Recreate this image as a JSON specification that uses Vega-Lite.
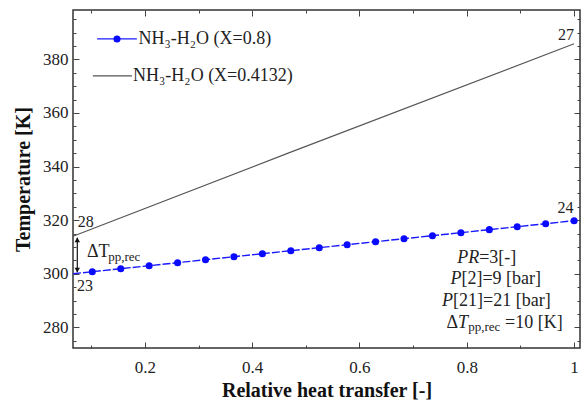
{
  "$schema": "https://vega.github.io/schema/vega-lite/v6.json",
  "width": 507,
  "height": 338,
  "autosize": {"type": "none"},
  "padding": {"left": 73, "top": 10, "right": 8, "bottom": 52},
  "background": "white",
  "config": {
    "view": {"stroke": "#333333", "strokeWidth": 1.5},
    "font": "Liberation Serif",
    "style": {"guide-label": {"font": "Liberation Serif"}, "guide-title": {"font": "Liberation Serif"}},
    "axis": {"domain": false, "grid": false, "labelFont": "Liberation Serif", "titleFont": "Liberation Serif", "labelFontSize": 17, "labelColor": "#222222", "tickColor": "#444444", "titleFontSize": 20, "titleFontWeight": "bold", "titleColor": "#111111"},
    "text": {"font": "Liberation Serif", "color": "#222222"}
  },
  "datasets": {
    "gray": [
      {"x": 0.066, "T": 314.0},
      {"x": 0.467, "T": 345.0},
      {"x": 1.0, "T": 385.8}
    ],
    "blue": [
      {"x": 0.066, "T": 300.0, "pt": false},
      {"x": 0.102, "T": 300.76, "pt": true},
      {"x": 0.155, "T": 301.89, "pt": true},
      {"x": 0.208, "T": 303.01, "pt": true},
      {"x": 0.261, "T": 304.13, "pt": true},
      {"x": 0.313, "T": 305.24, "pt": true},
      {"x": 0.366, "T": 306.36, "pt": true},
      {"x": 0.419, "T": 307.48, "pt": true},
      {"x": 0.472, "T": 308.61, "pt": true},
      {"x": 0.525, "T": 309.73, "pt": true},
      {"x": 0.577, "T": 310.83, "pt": true},
      {"x": 0.63, "T": 311.96, "pt": true},
      {"x": 0.683, "T": 313.08, "pt": true},
      {"x": 0.736, "T": 314.2, "pt": true},
      {"x": 0.789, "T": 315.33, "pt": true},
      {"x": 0.842, "T": 316.45, "pt": true},
      {"x": 0.894, "T": 317.55, "pt": true},
      {"x": 0.947, "T": 318.68, "pt": true},
      {"x": 1.0, "T": 319.8, "pt": true}
    ],
    "stateLeft": [
      {"x": 0.075, "T": 319.3, "text": "28"},
      {"x": 0.0736, "T": 295.6, "text": "23"}
    ],
    "stateRight": [
      {"x": 1.0, "T": 389.1, "text": "27"},
      {"x": 0.999, "T": 324.6, "text": "24"}
    ],
    "legendLines": [
      {"x": 0.111, "x2": 0.185, "T": 387.6, "series": "X=0.8"},
      {"x": 0.103, "x2": 0.176, "T": 373.8, "series": "X=0.4132"}
    ],
    "legendText": [
      {"x": 0.188, "T": 387.6, "text": "NH₃-H₂O (X=0.8)"},
      {"x": 0.178, "T": 373.8, "text": "NH₃-H₂O (X=0.4132)"}
    ],
    "italicRight": [
      {"x": 0.823, "T": 305.7, "text": "PR"},
      {"x": 0.79, "T": 298.2, "text": "P"},
      {"x": 0.7745, "T": 290.0, "text": "P"}
    ],
    "normalLeft": [
      {"x": 0.823, "T": 305.7, "text": "=3[-]"},
      {"x": 0.79, "T": 298.2, "text": "[2]=9 [bar]"},
      {"x": 0.7745, "T": 290.0, "text": "[21]=21 [bar]"},
      {"x": 0.8714, "T": 281.5, "text": "=10 [K]"}
    ],
    "deltaRight": [
      {"x": 0.7838, "T": 281.5, "text": "Δ"}
    ],
    "italicLeft": [
      {"x": 0.7838, "T": 281.5, "text": "T"}
    ],
    "subLeft": [
      {"x": 0.8025, "T": 280.2, "text": "pp,rec"},
      {"x": 0.1315, "T": 306.3, "text": "pp,rec"}
    ],
    "dtLabel": [
      {"x": 0.092, "T": 308.3, "text": "ΔT"}
    ],
    "arrow": [
      {"x": 0.074, "T": 300.6, "T2": 313.4}
    ],
    "arrowHeads": [
      {"x": 0.074, "T": 312.6, "dir": "up"},
      {"x": 0.074, "T": 301.4, "dir": "down"}
    ]
  },
  "resolve": {"axis": {"x": "independent", "y": "independent"}},
  "layer": [
    {
      "data": {"name": "gray"},
      "mark": {"type": "line", "color": "#555555", "strokeWidth": 1.1},
      "encoding": {
        "x": {"field": "x", "type": "quantitative", "scale": {"domain": [0.066, 1.011], "nice": false, "zero": false},
          "axis": {"orient": "bottom", "title": "Relative heat transfer [-]", "labelFont": "Liberation Serif", "titleFont": "Liberation Serif", "values": [0.1, 0.2, 0.3, 0.4, 0.5, 0.6, 0.7, 0.8, 0.9, 1.0], "format": ".1~f",
            "labelExpr": "indexof(['0.2','0.4','0.6','0.8','1'], datum.label) >= 0 ? datum.label : ''",
            "tickSize": {"condition": {"test": "indexof([0.2,0.4,0.6,0.8,1], round(datum.value*10)/10) >= 0", "value": -6}, "value": -3},
            "labelPadding": 17, "titlePadding": 5}},
        "y": {"field": "T", "type": "quantitative", "scale": {"domain": [272.3, 398.4], "nice": false, "zero": false},
          "axis": {"orient": "left", "title": "Temperature [K]", "labelFont": "Liberation Serif", "titleFont": "Liberation Serif", "values": [275, 280, 285, 290, 295, 300, 305, 310, 315, 320, 325, 330, 335, 340, 345, 350, 355, 360, 365, 370, 375, 380, 385, 390, 395],
            "labelExpr": "datum.value % 20 == 0 ? datum.label : ''",
            "tickSize": {"condition": {"test": "datum.value % 20 == 0", "value": -6}, "value": -3},
            "labelPadding": 11, "titlePadding": 9}}
      }
    },
    {
      "data": {"name": "blue"},
      "mark": {"type": "line", "color": "#1a1aff", "strokeWidth": 1.4, "strokeDash": [8, 2]},
      "encoding": {
        "x": {"field": "x", "type": "quantitative",
          "axis": {"orient": "top", "title": null, "labels": false, "values": [0.1, 0.2, 0.3, 0.4, 0.5, 0.6, 0.7, 0.8, 0.9, 1.0],
            "tickSize": {"condition": {"test": "indexof([0.2,0.4,0.6,0.8,1], round(datum.value*10)/10) >= 0", "value": -6}, "value": -3}}},
        "y": {"field": "T", "type": "quantitative",
          "axis": {"orient": "right", "title": null, "labels": false, "values": [275, 280, 285, 290, 295, 300, 305, 310, 315, 320, 325, 330, 335, 340, 345, 350, 355, 360, 365, 370, 375, 380, 385, 390, 395],
            "tickSize": {"condition": {"test": "datum.value % 20 == 0", "value": -6}, "value": -3}}}
      }
    },
    {
      "data": {"name": "blue"},
      "transform": [{"filter": "datum.pt"}],
      "mark": {"type": "point", "filled": true, "color": "#0a0aff", "size": 50, "opacity": 1},
      "encoding": {
        "x": {"field": "x", "type": "quantitative", "axis": null},
        "y": {"field": "T", "type": "quantitative", "axis": null}
      }
    },
    {
      "data": {"name": "legendLines"},
      "mark": {"type": "rule", "strokeWidth": 1.2},
      "encoding": {
        "x": {"field": "x", "type": "quantitative", "axis": null},
        "x2": {"field": "x2"},
        "y": {"field": "T", "type": "quantitative", "axis": null},
        "color": {"field": "series", "type": "nominal", "scale": {"domain": ["X=0.8", "X=0.4132"], "range": ["#1a1aff", "#555555"]}, "legend": null}
      }
    },
    {
      "data": {"values": [{"x": 0.148, "T": 387.6}]},
      "mark": {"type": "point", "filled": true, "color": "#0a0aff", "size": 50, "opacity": 1},
      "encoding": {
        "x": {"field": "x", "type": "quantitative", "axis": null},
        "y": {"field": "T", "type": "quantitative", "axis": null}
      }
    },
    {
      "data": {"name": "legendText"},
      "mark": {"type": "text", "align": "left", "baseline": "middle", "fontSize": 18},
      "encoding": {
        "x": {"field": "x", "type": "quantitative", "axis": null},
        "y": {"field": "T", "type": "quantitative", "axis": null},
        "text": {"field": "text"}
      }
    },
    {
      "data": {"name": "stateLeft"},
      "mark": {"type": "text", "align": "left", "baseline": "middle", "fontSize": 16},
      "encoding": {
        "x": {"field": "x", "type": "quantitative", "axis": null},
        "y": {"field": "T", "type": "quantitative", "axis": null},
        "text": {"field": "text"}
      }
    },
    {
      "data": {"name": "stateRight"},
      "mark": {"type": "text", "align": "right", "baseline": "middle", "fontSize": 16},
      "encoding": {
        "x": {"field": "x", "type": "quantitative", "axis": null},
        "y": {"field": "T", "type": "quantitative", "axis": null},
        "text": {"field": "text"}
      }
    },
    {
      "data": {"name": "italicRight"},
      "mark": {"type": "text", "align": "right", "baseline": "middle", "fontSize": 18, "fontStyle": "italic"},
      "encoding": {
        "x": {"field": "x", "type": "quantitative", "axis": null},
        "y": {"field": "T", "type": "quantitative", "axis": null},
        "text": {"field": "text"}
      }
    },
    {
      "data": {"name": "normalLeft"},
      "mark": {"type": "text", "align": "left", "baseline": "middle", "fontSize": 18},
      "encoding": {
        "x": {"field": "x", "type": "quantitative", "axis": null},
        "y": {"field": "T", "type": "quantitative", "axis": null},
        "text": {"field": "text"}
      }
    },
    {
      "data": {"name": "deltaRight"},
      "mark": {"type": "text", "align": "right", "baseline": "middle", "fontSize": 18},
      "encoding": {
        "x": {"field": "x", "type": "quantitative", "axis": null},
        "y": {"field": "T", "type": "quantitative", "axis": null},
        "text": {"field": "text"}
      }
    },
    {
      "data": {"name": "italicLeft"},
      "mark": {"type": "text", "align": "left", "baseline": "middle", "fontSize": 18, "fontStyle": "italic"},
      "encoding": {
        "x": {"field": "x", "type": "quantitative", "axis": null},
        "y": {"field": "T", "type": "quantitative", "axis": null},
        "text": {"field": "text"}
      }
    },
    {
      "data": {"name": "subLeft"},
      "mark": {"type": "text", "align": "left", "baseline": "middle", "fontSize": 13},
      "encoding": {
        "x": {"field": "x", "type": "quantitative", "axis": null},
        "y": {"field": "T", "type": "quantitative", "axis": null},
        "text": {"field": "text"}
      }
    },
    {
      "data": {"name": "dtLabel"},
      "mark": {"type": "text", "align": "left", "baseline": "middle", "fontSize": 18},
      "encoding": {
        "x": {"field": "x", "type": "quantitative", "axis": null},
        "y": {"field": "T", "type": "quantitative", "axis": null},
        "text": {"field": "text"}
      }
    },
    {
      "data": {"name": "arrow"},
      "mark": {"type": "rule", "color": "#111111", "strokeWidth": 1.2},
      "encoding": {
        "x": {"field": "x", "type": "quantitative", "axis": null},
        "y": {"field": "T", "type": "quantitative", "axis": null},
        "y2": {"field": "T2"}
      }
    },
    {
      "data": {"name": "arrowHeads"},
      "mark": {"type": "point", "filled": true, "color": "#111111", "size": 30, "opacity": 1},
      "encoding": {
        "x": {"field": "x", "type": "quantitative", "axis": null},
        "y": {"field": "T", "type": "quantitative", "axis": null},
        "shape": {"field": "dir", "type": "nominal", "scale": {"domain": ["up", "down"], "range": ["triangle-up", "triangle-down"]}, "legend": null}
      }
    }
  ]
}
